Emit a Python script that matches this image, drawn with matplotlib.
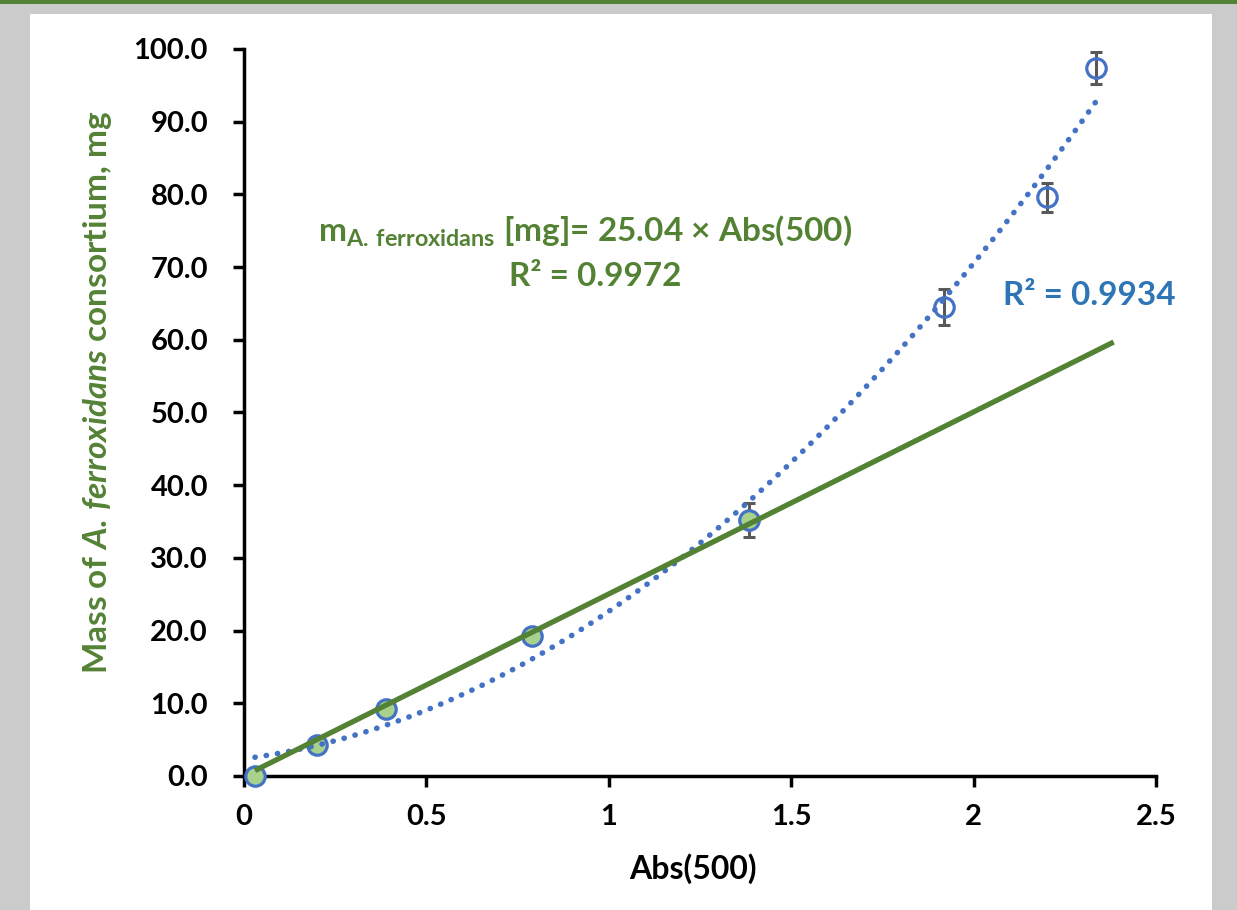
import matplotlib
matplotlib.use("Agg")
import matplotlib.pyplot as plt
from matplotlib.patches import Rectangle
import numpy as np

# absorbance at 500 nm vs biomass of the consortium
abs500 = [0.03, 0.20, 0.39, 0.79, 1.384, 1.919, 2.201, 2.335]
mass_mg = [0.0, 4.3, 9.2, 19.3, 35.2, 64.5, 79.6, 97.4]
err_mg = [0.0, 0.0, 0.0, 0.0, 2.3, 2.5, 2.0, 2.2]
n_linear = 5          # points used for the linear calibration
slope = 25.04         # mg per absorbance unit, zero intercept
line_end = 2.384      # linear trend extended forward
r2_lin = "0.9972"
r2_poly = "0.9934"

GREEN = "#548235"
LIGHT_GREEN = "#A9D18E"
BLUE = "#4472C4"
BLUE_TXT = "#2E75B6"
GREY = "#595959"

plt.rcParams["font.family"] = ["Lato", "DejaVu Sans"]
plt.rcParams["font.weight"] = "bold"
plt.rcParams["axes.labelweight"] = "bold"
plt.rcParams["mathtext.fontset"] = "custom"
plt.rcParams["mathtext.rm"] = "Lato:bold"
plt.rcParams["mathtext.it"] = "Lato:italic:bold"
plt.rcParams["mathtext.bf"] = "Lato:bold"

fig = plt.figure(figsize=(12.37, 9.10), dpi=100, facecolor="#CBCBCB")
fig.patches.append(Rectangle((30 / 1237, 0), 1182 / 1237, 1 - 14 / 910,
                             transform=fig.transFigure, facecolor="white",
                             edgecolor="none", zorder=0))
fig.patches.append(Rectangle((0, 1 - 4 / 910), 1, 4 / 910,
                             transform=fig.transFigure, facecolor=GREEN,
                             edgecolor="none", zorder=0))

ax = fig.add_axes([244 / 1237, 1 - 776 / 910, 912 / 1237, 727 / 910])
ax.set_zorder(2)
ax.set_facecolor("none")

x = np.array(abs500)
y = np.array(mass_mg)
e = np.array(err_mg)

# error bars behind the markers
has_err = e > 0
ax.errorbar(x[has_err], y[has_err], yerr=e[has_err], fmt="none",
            ecolor=GREY, elinewidth=2.2, capsize=4, capthick=2.2, zorder=2)

ax.plot(x[:n_linear], y[:n_linear], "o", ms=14, mfc=LIGHT_GREEN,
        mec=BLUE, mew=2.3, zorder=3, clip_on=False)
ax.plot(x[n_linear:], y[n_linear:], "o", ms=14, mfc="none",
        mec=BLUE, mew=2.3, zorder=3, clip_on=False)

# second order polynomial trend over all points
coef = np.polyfit(x, y, 2)
xp = np.linspace(x[0], x[-1], 200)
ax.plot(xp, np.polyval(coef, xp), color=BLUE, lw=4.0,
        linestyle=(0, (0.05, 2.0)), dash_capstyle="round", zorder=4)

# linear calibration through zero
xl = np.array([x[0], line_end])
ax.plot(xl, slope * xl, color=GREEN, lw=3.8, solid_capstyle="butt", zorder=5)

ax.text(0.935, 73.6,
        r"$\mathrm{m}_{\mathrm{A.\:ferroxidans}}$" + " [mg]= 25.04 × Abs(500)",
        color=GREEN, fontsize=24, ha="center", va="baseline")
ax.text(0.962, 67.4, "R² = " + r2_lin, color=GREEN, fontsize=24,
        ha="center", va="baseline")
ax.text(2.316, 64.8, "R² = " + r2_poly, color=BLUE_TXT, fontsize=24,
        ha="center", va="baseline")

ax.set_xlim(0, 2.5)
ax.set_ylim(0, 100)
ax.set_xticks([0, 0.5, 1, 1.5, 2, 2.5])
ax.set_xticklabels(["0", "0.5", "1", "1.5", "2", "2.5"])
ax.set_yticks(np.arange(0, 101, 10))
ax.set_yticklabels([f"{v:.1f}" for v in np.arange(0, 101, 10)])
ax.tick_params(direction="out", length=8, width=2.5, labelsize=21,
               colors="black")
ax.tick_params(axis="y", pad=18)
ax.tick_params(axis="x", pad=12)
for s in ["top", "right"]:
    ax.spines[s].set_visible(False)
for s in ["left", "bottom"]:
    ax.spines[s].set_linewidth(2.5)

ax.set_xlabel("Abs(500)", fontsize=23)
ax.xaxis.set_label_coords(0.492, -0.106)
ax.set_ylabel(r"Mass of $\mathit{A.\,ferroxidans}$ consortium, mg",
              color=GREEN, fontsize=24)
ax.yaxis.set_label_coords(-0.142, 0.528)

fig.savefig("out.png", dpi=100, facecolor=fig.get_facecolor())
